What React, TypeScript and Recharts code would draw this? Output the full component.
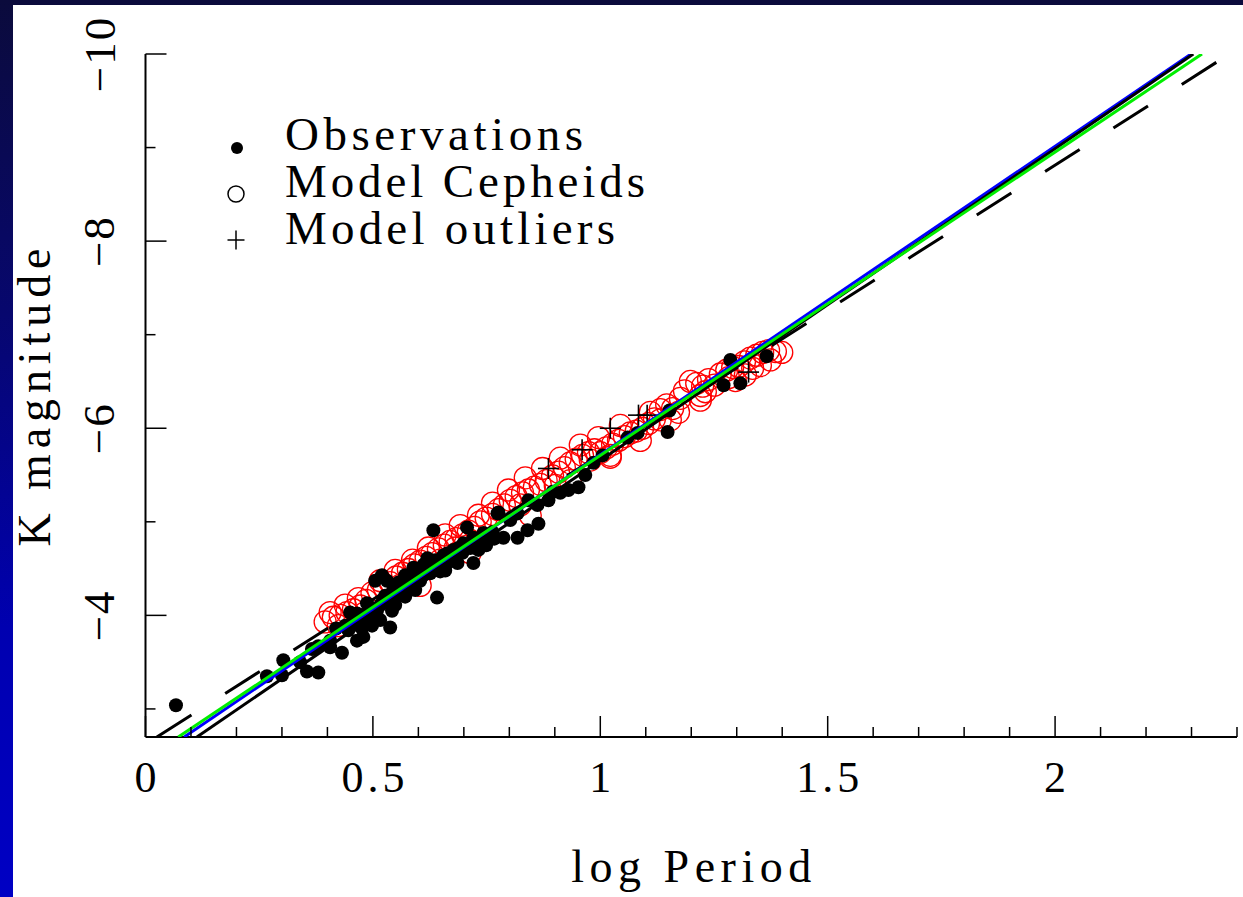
import React from 'react';
import { ScatterChart, Scatter, XAxis, YAxis, Legend } from 'recharts';

// ---------- data ----------
const obsLogP = [
  0.067, 0.267, 0.300, 0.303, 0.355, 0.380, 0.366, 0.380, 0.406, 0.432,
  0.419, 0.465, 0.479, 0.538, 0.542, 0.457, 0.465, 0.498, 0.516, 0.509,
  0.487, 0.523, 0.505, 0.520, 0.531, 0.560, 0.576, 0.589, 0.604, 0.620,
  0.626, 0.641, 0.633, 0.648, 0.663, 0.677, 0.686, 0.707, 0.699, 0.721,
  0.721, 0.743, 0.763, 0.774, 0.752, 0.787, 0.818, 0.840, 0.864, 0.776,
  0.802, 0.818, 0.842, 0.862, 0.886, 0.895, 0.912, 0.930, 0.952, 0.967,
  0.985, 1.005, 1.060, 1.082, 1.148, 1.152, 1.271, 1.286, 1.308, 1.366,
  0.439, 0.450, 0.476, 0.494, 0.527, 0.545, 0.556, 0.571, 0.587, 0.600,
  0.611, 0.637, 0.655, 0.670, 0.688, 0.703, 0.732, 0.659, 0.593, 0.549,
  0.571, 0.406, 0.340,
  0.446, 0.463, 0.476, 0.490, 0.503, 0.516, 0.534, 0.551, 0.569, 0.582,
  0.600, 0.617, 0.630, 0.648, 0.666, 0.683, 0.697, 0.714, 0.732, 0.749,
  0.767,
];
const obsK = [
  -3.04, -3.35, -3.36, -3.52, -3.40, -3.39, -3.64, -3.67, -3.66, -3.60,
  -3.86, -3.73, -3.77, -3.87, -4.05, -3.95, -4.02, -3.89, -3.95, -4.05,
  -4.13, -4.16, -4.37, -4.43, -4.37, -4.27, -4.34, -4.51, -4.37, -4.61,
  -4.45, -4.19, -4.91, -4.56, -4.66, -4.70, -4.56, -4.94, -4.77, -4.56,
  -4.83, -4.88, -4.89, -5.09, -4.80, -4.83, -4.83, -4.91, -4.98, -5.10,
  -5.02, -5.09, -5.23, -5.18, -5.23, -5.32, -5.31, -5.34, -5.37, -5.50,
  -5.63, -5.71, -5.90, -5.95, -5.96, -6.19, -6.46, -6.73, -6.48, -6.77,
  -3.89, -4.03, -4.00, -4.08, -4.21, -4.27, -4.35, -4.43, -4.40, -4.48,
  -4.54, -4.59, -4.64, -4.59, -4.72, -4.75, -4.80, -4.48, -4.27, -4.11,
  -4.20, -3.73, -3.50,
  -3.84, -3.90, -3.86, -3.97, -4.03, -4.11, -4.16, -4.20, -4.29, -4.32,
  -4.41, -4.46, -4.52, -4.47, -4.57, -4.63, -4.67, -4.72, -4.70, -4.75,
  -4.82,
];

const modelLogP = [
  0.395, 0.413, 0.428, 0.443, 0.457, 0.472, 0.485, 0.498, 0.512, 0.525,
  0.538, 0.551, 0.565, 0.578, 0.591, 0.604, 0.617, 0.630, 0.644, 0.657,
  0.670, 0.683, 0.697, 0.710, 0.723, 0.736, 0.749, 0.763, 0.776, 0.789,
  0.802, 0.815, 0.829, 0.842, 0.855, 0.868, 0.881, 0.895, 0.908, 0.921,
  0.934, 0.947, 0.961, 0.974, 0.987, 1.000, 1.013, 1.027, 1.040, 1.053,
  1.066, 1.079, 1.093, 1.106, 1.119, 1.132, 1.146, 1.159, 1.172, 1.185,
  1.198, 1.212, 1.225, 1.238, 1.251, 1.264, 1.278, 1.291, 1.304, 1.317,
  1.330, 1.344, 1.357, 1.370, 1.385, 1.399,
  0.483, 0.560, 0.648, 0.714, 0.824, 0.901, 0.978, 1.088, 1.154, 1.220,
  1.297, 1.352, 0.424, 0.681, 1.022,
  0.406, 0.439, 0.468, 0.516, 0.549, 0.587, 0.622, 0.659, 0.692, 0.732,
  0.763, 0.798, 0.835, 0.873, 0.912, 0.956, 0.996, 1.044, 1.110, 1.176,
  1.231, 1.282, 1.335, 1.374,
  0.604, 0.714, 0.846, 0.934, 1.022, 1.132, 1.220, 1.319,
];
const modelK = [
  -3.93, -3.98, -4.00, -4.03, -4.06, -4.10, -4.16, -4.24, -4.27, -4.30,
  -4.35, -4.41, -4.45, -4.49, -4.54, -4.58, -4.62, -4.66, -4.71, -4.75,
  -4.79, -4.82, -4.86, -4.90, -4.94, -5.00, -5.04, -5.08, -5.13, -5.18,
  -5.23, -5.27, -5.31, -5.34, -5.37, -5.40, -5.44, -5.49, -5.53, -5.58,
  -5.63, -5.67, -5.71, -5.74, -5.77, -5.74, -5.79, -5.83, -5.87, -5.91,
  -5.95, -5.97, -6.00, -6.05, -6.10, -6.20, -6.25, -6.21, -6.17, -6.40,
  -6.50, -6.48, -6.45, -6.52, -6.46, -6.58, -6.62, -6.65, -6.66, -6.71,
  -6.75, -6.78, -6.81, -6.83, -6.82, -6.81,
  -4.03, -4.32, -4.59, -4.80, -5.18, -5.39, -5.66, -5.87, -6.09, -6.35,
  -6.51, -6.67, -3.89, -4.72, -5.69,
  -4.03, -4.11, -4.18, -4.37, -4.48, -4.59, -4.72, -4.86, -4.96, -5.07,
  -5.20, -5.34, -5.47, -5.57, -5.68, -5.82, -5.90, -6.03, -6.17, -6.32,
  -6.39, -6.54, -6.64, -6.73,
  -4.32, -4.67, -5.07, -5.44, -5.71, -6.09, -6.30, -6.57,
];

const outlierLogP = [0.886, 0.960, 1.022, 1.084, 1.103, 1.326];
const outlierK = [-5.57, -5.77, -6.00, -6.14, -6.14, -6.60];

const dashedFitLogP = [0.025, 2.357];
const dashedFitK = [-2.7, -9.918];
const blueFitLogP = [0.085, 2.299];
const blueFitK = [-2.7, -10];
const blackFitLogP = [0.113, 2.304];
const blackFitK = [-2.7, -10];
const greenFitLogP = [0.072, 2.323];
const greenFitK = [-2.7, -10];

const xTicks = [
  0, 0.1, 0.2, 0.3, 0.4, 0.5, 0.6, 0.7, 0.8, 0.9, 1, 1.1, 1.2,
  1.3, 1.4, 1.5, 1.6, 1.7, 1.8, 1.9, 2, 2.1, 2.2, 2.3, 2.4,
];
const xTickLabels = ['0', '0.5', '1', '1.5', '2'];
const yTicks = [-10, -9, -8, -7, -6, -5, -4, -3];
const yTickLabels = ['\u221210', '\u22128', '\u22126', '\u22124'];

const legendLabels = ['Observations', 'Model Cepheids', 'Model outliers'];
const xAxisTitle = 'log Period';
const yAxisTitle = 'K magnitude';

// ---------- helpers ----------
const zip = (xs: number[], ys: number[]) => xs.map((x, i) => ({ x, y: ys[i] }));

const obsData = zip(obsLogP, obsK);
const modelData = zip(modelLogP, modelK);
const outlierData = zip(outlierLogP, outlierK);
const dashedData = zip(dashedFitLogP, dashedFitK);
const blueData = zip(blueFitLogP, blueFitK);
const blackData = zip(blackFitLogP, blackFitK);
const greenData = zip(greenFitLogP, greenFitK);

const FONT = "'Liberation Serif', 'DejaVu Serif', serif";
const MAJOR = 21;
const MINOR = 10;

const isMajorX = (v: number) => Math.abs(v * 2 - Math.round(v * 2)) < 1e-6;
const isMajorY = (v: number) => Math.abs(v % 2) < 1e-6;

const BottomTick = (props: any) => {
  const { x, y, payload } = props;
  const v = payload.value;
  const major = isMajorX(v);
  const label = major ? xTickLabels[Math.round(v * 2)] : undefined;
  return (
    <g>
      <line x1={x} y1={y} x2={x} y2={y - (major ? MAJOR : MINOR)} stroke="#000" strokeWidth={1.5} />
      {label !== undefined && (
        <text
          x={x}
          y={y + 55}
          textAnchor="middle"
          fontSize={44}
          fontFamily={FONT}
          fill="#000"
          {...(label.length > 1 ? { textLength: 63, lengthAdjust: 'spacing' } : {})}
        >
          {label}
        </text>
      )}
    </g>
  );
};

const TopTick = (props: any) => {
  const { x, y, payload } = props;
  const major = isMajorX(payload.value);
  return <line x1={x} y1={y} x2={x} y2={y + (major ? MAJOR : MINOR)} stroke="#000" strokeWidth={1.5} />;
};

const LeftTick = (props: any) => {
  const { x, y, payload } = props;
  const v = payload.value;
  const major = isMajorY(v);
  const label = major ? yTickLabels[Math.round((v + 10) / 2)] : undefined;
  const lx = x - 31;
  return (
    <g>
      <line x1={x} y1={y} x2={x + (major ? MAJOR : MINOR)} y2={y} stroke="#000" strokeWidth={1.5} />
      {label !== undefined && (
        <text
          x={lx}
          y={y}
          transform={`rotate(-90 ${lx} ${y})`}
          textAnchor="middle"
          fontSize={45}
          fontFamily={FONT}
          fill="#000"
          letterSpacing={2}
        >
          {label}
        </text>
      )}
    </g>
  );
};

const RightTick = (props: any) => {
  const { x, y, payload } = props;
  const major = isMajorY(payload.value);
  return <line x1={x} y1={y} x2={x - (major ? MAJOR : MINOR)} y2={y} stroke="#000" strokeWidth={1.5} />;
};

const XTitle = (props: any) => {
  const vb = props.viewBox || { x: 145.5, y: 737, width: 1091.5, height: 160 };
  return (
    <text
      x={vb.x + vb.width / 2}
      y={vb.y + 145}
      textAnchor="middle"
      fontSize={46}
      fontFamily={FONT}
      fill="#000"
      textLength={240}
      lengthAdjust="spacing"
    >
      {xAxisTitle}
    </text>
  );
};

const YTitle = (props: any) => {
  const vb = props.viewBox || { x: 0, y: 54, width: 145.5, height: 683 };
  const tx = vb.x + 50;
  const ty = vb.y + vb.height / 2 + 2;
  return (
    <text
      x={tx}
      y={ty}
      transform={`rotate(-90 ${tx} ${ty})`}
      textAnchor="middle"
      fontSize={46}
      fontFamily={FONT}
      fill="#000"
      textLength={298}
      lengthAdjust="spacing"
    >
      {yAxisTitle}
    </text>
  );
};

const renderLegend = () => (
  <svg width={460} height={160} style={{ display: 'block', overflow: 'visible' }}>
    <circle cx={22} cy={43} r={6} fill="#000" />
    <text x={70} y={45} fontSize={47} fontFamily={FONT} fill="#000" textLength={298} lengthAdjust="spacing">
      {legendLabels[0]}
    </text>
    <circle cx={21} cy={89} r={8} fill="none" stroke="#000" strokeWidth={1.5} />
    <text x={70} y={92} fontSize={47} fontFamily={FONT} fill="#000" textLength={360} lengthAdjust="spacing">
      {legendLabels[1]}
    </text>
    <line x1={12.5} y1={135} x2={29.5} y2={135} stroke="#000" strokeWidth={1.5} />
    <line x1={21} y1={125.5} x2={21} y2={144.5} stroke="#000" strokeWidth={1.5} />
    <text x={70} y={139} fontSize={47} fontFamily={FONT} fill="#000" textLength={330} lengthAdjust="spacing">
      {legendLabels[2]}
    </text>
  </svg>
);

const OpenCircle = (p: any) => (
  <circle cx={p.cx} cy={p.cy} r={11} fill="none" stroke="#ff0000" strokeWidth={1.3} />
);
const FilledDot = (p: any) => <circle cx={p.cx} cy={p.cy} r={7} fill="#000" />;
const Plus = (p: any) => (
  <g>
    <line x1={p.cx - 10.5} y1={p.cy} x2={p.cx + 10.5} y2={p.cy} stroke="#000" strokeWidth={1.6} />
    <line x1={p.cx} y1={p.cy - 10.5} x2={p.cx} y2={p.cy + 10.5} stroke="#000" strokeWidth={1.6} />
  </g>
);
const NoShape = () => <g />;

export default function App() {
  return (
    <div
      style={{
        position: 'absolute',
        left: 0,
        top: 0,
        width: 1243,
        height: 897,
        overflow: 'hidden',
        background: 'linear-gradient(to bottom, #0b0b3c 0%, #07076e 35%, #0000b0 70%, #0000c4 100%)',
      }}
    >
      <div style={{ position: 'absolute', left: 13, top: 5, width: 1230, height: 892, background: '#ffffff' }} />
      <div style={{ position: 'absolute', left: 0, top: 0 }}>
        <ScatterChart width={1243} height={897} margin={{ top: 54, right: 6, bottom: 0, left: 0 }}>
          <XAxis
            xAxisId="b"
            type="number"
            dataKey="x"
            domain={[0, 2.4]}
            allowDataOverflow
            ticks={xTicks}
            interval={0}
            height={160}
            tickSize={0}
            tickMargin={0}
            tickLine={false}
            tick={<BottomTick />}
            axisLine={{ stroke: '#000', strokeWidth: 2 }}
            label={{ content: <XTitle /> } as any}
          />
          <XAxis
            xAxisId="t"
            orientation="top"
            type="number"
            dataKey="x"
            domain={[0, 2.4]}
            allowDataOverflow
            ticks={xTicks}
            interval={0}
            height={0}
            tickSize={0}
            tickMargin={0}
            tickLine={false}
            tick={<TopTick />}
            axisLine={{ stroke: '#000', strokeWidth: 2 }}
          />
          <YAxis
            yAxisId="l"
            type="number"
            dataKey="y"
            domain={[-10, -2.7]}
            reversed
            allowDataOverflow
            ticks={yTicks}
            interval={0}
            width={145.5}
            tickSize={0}
            tickMargin={0}
            tickLine={false}
            tick={<LeftTick />}
            axisLine={{ stroke: '#000', strokeWidth: 2 }}
            label={{ content: <YTitle /> } as any}
          />
          <YAxis
            yAxisId="r"
            orientation="right"
            type="number"
            dataKey="y"
            domain={[-10, -2.7]}
            reversed
            allowDataOverflow
            ticks={yTicks}
            interval={0}
            width={0}
            tickSize={0}
            tickMargin={0}
            tickLine={false}
            tick={<RightTick />}
            axisLine={{ stroke: '#000', strokeWidth: 2 }}
          />
          <Legend
            layout="horizontal"
            verticalAlign="middle"
            align="center"
            content={renderLegend}
            wrapperStyle={{ left: 215, top: 105, width: 460, height: 160 }}
          />
          <Scatter
            name="Model Cepheids"
            xAxisId="b"
            yAxisId="l"
            data={modelData}
            shape={OpenCircle}
            isAnimationActive={false}
          />
          <Scatter
            name="Observations"
            xAxisId="b"
            yAxisId="l"
            data={obsData}
            shape={FilledDot}
            isAnimationActive={false}
          />
          <Scatter
            name="Model outliers"
            xAxisId="b"
            yAxisId="l"
            data={outlierData}
            shape={Plus}
            isAnimationActive={false}
          />
          <Scatter
            xAxisId="b"
            yAxisId="l"
            data={dashedData}
            shape={NoShape}
            line={{ stroke: '#000', strokeWidth: 3, strokeDasharray: '41 40' }}
            legendType="none"
            isAnimationActive={false}
          />
          <Scatter
            xAxisId="b"
            yAxisId="l"
            data={blueData}
            shape={NoShape}
            line={{ stroke: '#0000ff', strokeWidth: 3 }}
            legendType="none"
            isAnimationActive={false}
          />
          <Scatter
            xAxisId="b"
            yAxisId="l"
            data={blackData}
            shape={NoShape}
            line={{ stroke: '#000', strokeWidth: 3 }}
            legendType="none"
            isAnimationActive={false}
          />
          <Scatter
            xAxisId="b"
            yAxisId="l"
            data={greenData}
            shape={NoShape}
            line={{ stroke: '#00ee00', strokeWidth: 3 }}
            legendType="none"
            isAnimationActive={false}
          />
        </ScatterChart>
      </div>
    </div>
  );
}
